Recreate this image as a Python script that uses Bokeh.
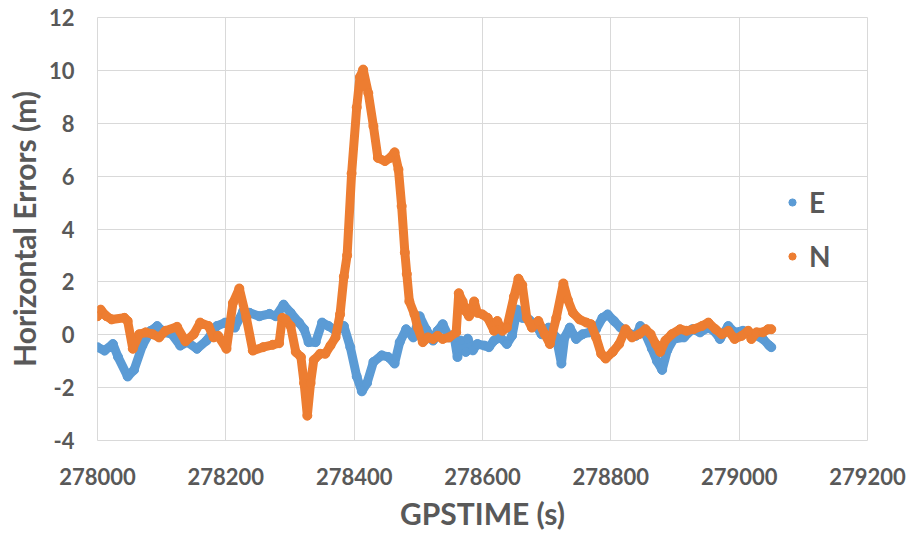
from bokeh.plotting import figure
from bokeh.models import (Range1d, SingleIntervalTicker, CustomJSTickFormatter,
                          Legend, LegendItem, ColumnDataSource)
from bokeh.embed import file_html
from bokeh.resources import INLINE

# ---- data ----
e_time = [278000, 278011, 278024, 278032, 278047, 278057, 278070, 278083, 278093, 278104,
          278116, 278129, 278140, 278155, 278170, 278186, 278199, 278214, 278227, 278237,
          278252, 278268, 278278, 278290, 278301, 278314, 278322, 278329, 278340, 278350,
          278360, 278371, 278384, 278394, 278404, 278412, 278420, 278430, 278443, 278453,
          278463, 278471, 278481, 278492, 278502, 278512, 278523, 278530, 278538, 278548,
          278556, 278561, 278566, 278574, 278577, 278585, 278592, 278603, 278610, 278618,
          278628, 278638, 278646, 278654, 278662, 278672, 278682, 278692, 278703, 278715,
          278723, 278728, 278736, 278746, 278756, 278767, 278777, 278787, 278795, 278805,
          278815, 278826, 278839, 278846, 278854, 278864, 278872, 278880, 278888, 278898,
          278914, 278927, 278939, 278952, 278963, 278970, 278983, 278993, 279006, 279022,
          279037, 279047, 279050]
e_error = [-0.47, -0.60, -0.35, -0.84, -1.58, -1.33, -0.41, 0.15, 0.33, 0.09,
           0.02, -0.41, -0.28, -0.53, -0.22, 0.33, 0.46, 0.27, 0.89, 0.83,
           0.70, 0.79, 0.70, 1.14, 0.83, 0.46, 0.21, -0.28, -0.28, 0.46,
           0.33, 0.15, 0.33, -0.47, -1.58, -2.14, -1.83, -1.03, -0.78, -0.84,
           -1.09, -0.28, 0.21, -0.10, 0.70, 0.21, -0.22, 0.15, 0.40, -0.10,
           -0.10, -0.84, -0.22, -0.65, -0.15, -0.59, -0.35, -0.41, -0.47, -0.22,
           -0.10, -0.35, -0.04, 0.95, 0.64, 0.58, 0.40, 0.02, 0.27, -0.10,
           -1.09, -0.10, 0.27, -0.16, 0.02, 0.09, 0.21, 0.64, 0.77, 0.52,
           0.27, 0.09, -0.04, 0.33, 0.02, -0.53, -1.00, -1.33, -0.59, -0.16,
           -0.10, 0.21, 0.09, 0.27, 0.09, -0.16, 0.33, 0.09, 0.15, 0.02,
           -0.16, -0.41, -0.47]

n_time = [278000, 278005, 278014, 278022, 278042, 278047, 278055, 278065, 278075, 278086,
          278096, 278106, 278124, 278137, 278150, 278160, 278173, 278181, 278188, 278201,
          278211, 278221, 278232, 278242, 278258, 278273, 278283, 278288, 278293, 278301,
          278309, 278317, 278322, 278327, 278332, 278337, 278347, 278355, 278363, 278371,
          278378, 278384, 278389, 278396, 278404, 278409, 278414, 278422, 278430, 278437,
          278448, 278456, 278463, 278469, 278474, 278479, 278482, 278486, 278494, 278499,
          278507, 278515, 278523, 278530, 278538, 278548, 278559, 278563, 278569, 278574,
          278579, 278587, 278592, 278600, 278608, 278618, 278623, 278631, 278638, 278649,
          278656, 278662, 278669, 278677, 278687, 278697, 278705, 278715, 278726, 278733,
          278741, 278751, 278762, 278769, 278777, 278785, 278792, 278803, 278813, 278823,
          278833, 278844, 278854, 278862, 278870, 278877, 278885, 278895, 278908, 278918,
          278929, 278942, 278952, 278963, 278973, 278983, 278993, 279004, 279014, 279019,
          279027, 279037, 279045, 279050]
n_error = [0.70, 0.95, 0.70, 0.58, 0.64, 0.52, -0.53, 0.02, 0.09, 0.02,
           -0.10, 0.15, 0.30, -0.25, 0.02, 0.46, 0.33, -0.10, -0.04, -0.53,
           1.20, 1.75, 0.64, -0.60, -0.47, -0.38, -0.32, 0.64, 0.58, 0.33,
           -0.65, -0.84, -1.83, -3.06, -1.83, -0.96, -0.72, -0.72, -0.41, -0.10,
           0.77, 2.20, 3.00, 6.10, 8.60, 9.75, 10.03, 9.14, 7.89, 6.69,
           6.57, 6.69, 6.90, 6.25, 4.87, 3.11, 2.30, 1.26, 0.77, 0.27,
           -0.28, -0.10, -0.16, -0.04, -0.16, -0.10, 0.09, 1.57, 1.26, 0.89,
           0.70, 1.26, 0.83, 0.77, 0.64, 0.15, 0.52, 0.15, 0.27, 1.44,
           2.12, 1.88, 0.64, 0.27, 0.52, 0.02, -0.35, 0.64, 1.94, 1.32,
           0.83, 0.58, 0.46, 0.40, -0.10, -0.72, -0.90, -0.65, -0.35, 0.21,
           -0.10, 0.02, 0.21, 0.02, -0.35, -0.65, -0.22, 0.02, 0.21, 0.15,
           0.21, 0.33, 0.46, 0.21, 0.02, 0.15, -0.16, -0.04, 0.15, -0.16,
           0.09, 0.09, 0.21, 0.21]

series_names = ["E", "N"]
series_colors = ["#5B9BD5", "#ED7D31"]
x_title = "GPSTIME (s)"
y_title = "Horizontal Errors (m)"

TEXT = "#595959"
GRID = "#D9D9D9"
FONT = "Lato"

p = figure(width=908, height=533, output_backend="svg", toolbar_location=None,
           x_range=Range1d(278000, 279200), y_range=Range1d(-4, 12),
           min_border_left=97, min_border_right=41, min_border_top=17, min_border_bottom=90,
           background_fill_color="white", border_fill_color="white")
p.outline_line_color = GRID

renderers = []
for t, v, name, col in [(e_time, e_error, series_names[0], series_colors[0]),
                        (n_time, n_error, series_names[1], series_colors[1])]:
    src = ColumnDataSource(dict(x=t, y=v))
    p.line("x", "y", source=src, line_color=col, line_width=9,
           line_join="round", line_cap="round")
    r = p.scatter("x", "y", source=src, size=9, fill_color=col, line_color=col)
    renderers.append(r)

p.xaxis.ticker = SingleIntervalTicker(interval=200)
p.yaxis.ticker = SingleIntervalTicker(interval=2)
p.xaxis.formatter = CustomJSTickFormatter(code="return tick.toFixed(0)")
p.yaxis.formatter = CustomJSTickFormatter(code="return tick.toFixed(0)")

for ax in (p.xaxis[0], p.yaxis[0]):
    ax.axis_line_color = None
    ax.major_tick_line_color = None
    ax.minor_tick_line_color = None
    ax.major_label_text_font = FONT
    ax.major_label_text_font_style = "bold"
    ax.major_label_text_font_size = "22px"
    ax.major_label_text_color = TEXT
    ax.axis_label_text_font = FONT
    ax.axis_label_text_font_style = "bold"
    ax.axis_label_text_color = TEXT

p.xaxis.axis_label = x_title
p.yaxis.axis_label = y_title
p.xaxis.axis_label_text_font_size = "30px"
p.yaxis.axis_label_text_font_size = "30px"
p.xaxis.major_label_standoff = 21
p.yaxis.major_label_standoff = 17
p.xaxis.axis_label_standoff = 7
p.yaxis.axis_label_standoff = 4

p.xgrid.grid_line_color = GRID
p.ygrid.grid_line_color = GRID
p.xgrid.grid_line_width = 1
p.ygrid.grid_line_width = 1

legend = Legend(items=[LegendItem(label=series_names[0], renderers=[renderers[0]]),
                       LegendItem(label=series_names[1], renderers=[renderers[1]])],
                location=(686, 157), orientation="vertical", padding=0, margin=0, spacing=0,
                glyph_width=18, glyph_height=54, label_height=54, label_standoff=8,
                label_text_font=FONT, label_text_font_style="bold",
                label_text_font_size="28px", label_text_color=TEXT,
                border_line_alpha=0, background_fill_alpha=0)
p.add_layout(legend)

open("out.html", "w").write(file_html(p, INLINE))
